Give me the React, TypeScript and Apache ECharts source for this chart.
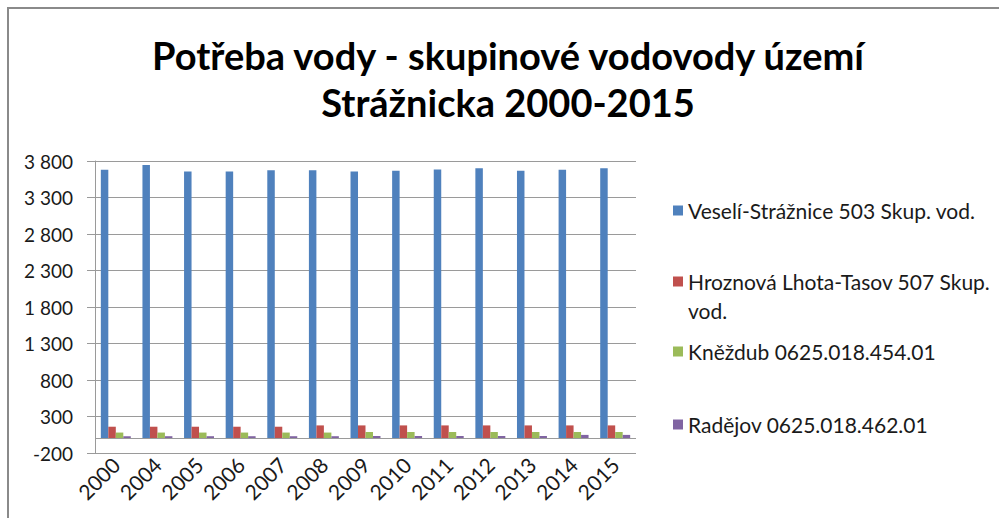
import React, { useEffect, useRef } from "react";
import * as echarts from "echarts";

const categories = ["2000", "2004", "2005", "2006", "2007", "2008", "2009", "2010", "2011", "2012", "2013", "2014", "2015"];
const seriesNames = [
  "Veselí-Strážnice 503 Skup. vod.",
  "Hroznová Lhota-Tasov 507 Skup. vod.",
  "Kněždub 0625.018.454.01",
  "Radějov 0625.018.462.01",
];
const veseli = [3680, 3745, 3655, 3655, 3675, 3675, 3655, 3665, 3685, 3700, 3665, 3680, 3700];
const hroznova = [160, 160, 160, 160, 160, 178, 178, 178, 178, 178, 178, 178, 178];
const knezdub = [80, 80, 80, 80, 80, 80, 88, 88, 88, 88, 88, 88, 88];
const radejov = [30, 30, 30, 30, 30, 30, 33, 33, 33, 33, 33, 48, 48];
const seriesData = [veseli, hroznova, knezdub, radejov];
const colors = ["#4F81BD", "#C0504D", "#9BBB59", "#8064A2"];
const titleLines = ["Potřeba vody - skupinové vodovody území", "Strážnicka 2000-2015"];

const FONT = "Lato";
const TEXT = "#1a1a1a";
const GRID = "#9a9a9a";

function fmt(v: number): string {
  const s = Math.abs(v).toString();
  const withSpace = s.replace(/\B(?=(\d{3})+(?!\d))/g, " ");
  return (v < 0 ? "-" : "") + withSpace;
}

export default function App() {
  const ref = useRef<HTMLDivElement>(null);
  useEffect(() => {
    document.body.style.margin = "0";
    document.body.style.overflow = "hidden";
    const chart = echarts.init(ref.current!, undefined, { renderer: "svg" });
    const legendTops = [196, 238, 337, 410];
    const legends = seriesNames.map((name, i) => ({
      data: [name],
      left: 673,
      top: legendTops[i],
      orient: "vertical",
      padding: 0,
      itemWidth: 10,
      itemHeight: 10,
      icon: "rect",
      selectedMode: false,
      formatter: (n: string) => (i === 1 ? "\n" + n.replace(/ (\S+)$/, "\n$1") : n),
      textStyle: {
        fontFamily: FONT,
        fontSize: 21,
        lineHeight: 29,
        color: TEXT,
      },
    }));
    chart.setOption({
      animation: false,
      backgroundColor: "#ffffff",
      color: colors,
      title: {
        text: titleLines.join("\n"),
        left: 508,
        top: 31,
        padding: 0,
        textAlign: "center",
        textVerticalAlign: "top",
        textStyle: {
          fontFamily: FONT,
          fontWeight: "bold",
          fontSize: 38,
          lineHeight: 47,
          color: "#000000",
        },
      },
      graphic: [
        {
          type: "rect",
          shape: { x: 8, y: 8, width: 1200, height: 800 },
          style: { fill: "none", stroke: "#8a8a8a", lineWidth: 2 },
          silent: true,
        },
      ],
      legend: legends,
      grid: { left: 95, top: 161, right: 363, bottom: 65, containLabel: false },
      xAxis: {
        type: "category",
        data: categories,
        axisLine: { show: false, onZero: false },
        axisTick: { show: false },
        axisLabel: {
          rotate: 45,
          margin: 8,
          fontFamily: FONT,
          fontSize: 21,
          color: TEXT,
        },
      },
      yAxis: {
        type: "value",
        min: -200,
        max: 3800,
        interval: 500,
        axisLine: { show: true, lineStyle: { color: GRID, width: 1 } },
        axisTick: { show: true, length: 8, lineStyle: { color: GRID } },
        splitLine: { show: true, lineStyle: { color: GRID, width: 1 } },
        axisLabel: {
          margin: 22,
          fontFamily: FONT,
          fontSize: 19,
          color: TEXT,
          formatter: (v: number) => fmt(v),
        },
      },
      series: seriesNames.map((name, i) => ({
        name,
        type: "bar",
        data: seriesData[i],
        barGap: "0%",
        barCategoryGap: "28%",
        itemStyle: { color: colors[i] },
        ...(i === 0
          ? {
              markLine: {
                silent: true,
                symbol: "none",
                label: { show: false },
                lineStyle: { color: GRID, width: 1, type: "solid" },
                data: [{ yAxis: 0 }],
              },
            }
          : {}),
      })),
    });
    return () => chart.dispose();
  }, []);
  return <div ref={ref} style={{ width: 999, height: 518 }} />;
}
